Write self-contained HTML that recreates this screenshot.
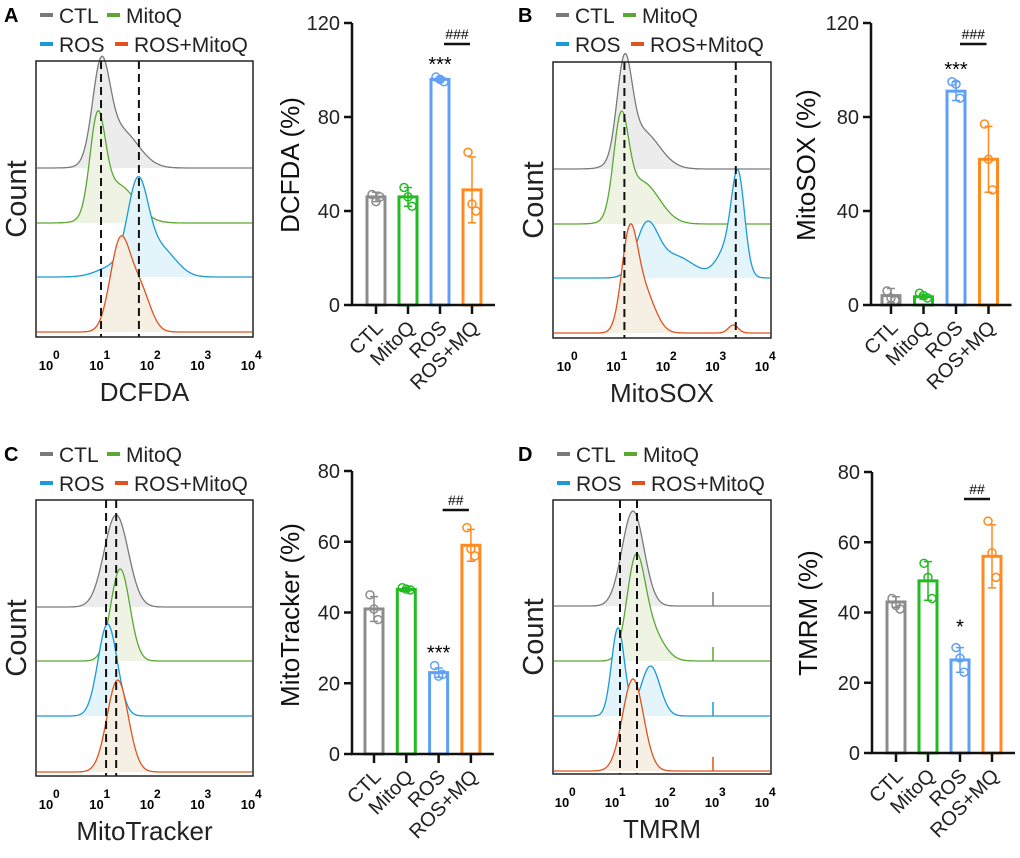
<!DOCTYPE html>
<html><head><meta charset="utf-8"><style>
body{margin:0;background:#fff}
svg{display:block;font-family:"Liberation Sans",Arial,sans-serif}
</style></head><body>
<svg id="fig" width="1020" height="858" viewBox="0 0 1020 858" xmlns="http://www.w3.org/2000/svg"></svg>
<script>
const NS="http://www.w3.org/2000/svg";
const svg=document.getElementById('fig');
function mk(tag,attrs,parent,text){const e=document.createElementNS(NS,tag);for(const k in attrs)e.setAttribute(k,attrs[k]);if(text!==undefined)e.textContent=text;(parent||svg).appendChild(e);return e;}

// ---------- data ----------
const categories=["CTL","MitoQ","ROS","ROS+MQ"];
const legendLabels=["CTL","MitoQ","ROS","ROS+MitoQ"];
const meansA=[46,46,96,49], sdA=[2,4,1,14];
const pointsA=[[47,44,46],[50,46,42],[97,96,95],[65,43,40]];
const meansB=[4,3.5,91,62], sdB=[3,1,4,14];
const pointsB=[[6,3,2],[5,4,3],[95,94,88],[77,62,49]];
const meansC=[41,46.5,23,59], sdC=[3.5,0.5,1.3,4.5];
const pointsC=[[45,41,38],[47,46.6,46.4],[25,22,22.5],[64,58,56]];
const meansD=[43,49,26.5,56], sdD=[1.5,5.5,3.5,9];
const pointsD=[[44,42,41],[54,50,44],[30,27,23],[66,57,50]];
const ticksAB=[0,40,80,120], ticksCD=[0,20,40,60,80];
const decades=[0,1,2,3,4];
// histogram peak components: [log10 centre, height(px), sigma]
const histA=[[[1.07,90,0.17],[1.45,38,0.35]],[[1.0,92,0.15],[1.4,38,0.35]],[[1.8,85,0.2],[2.25,28,0.3],[1.4,12,0.35]],[[1.45,90,0.2],[1.85,40,0.2]]];
const histB=[[[1.2,92,0.15],[1.55,38,0.35]],[[1.13,92,0.15],[1.55,42,0.35]],[[1.65,48,0.22],[2.2,22,0.4],[3.5,88,0.13],[3.3,30,0.22]],[[1.3,92,0.16],[1.6,40,0.22],[3.4,8,0.1]]];
const histC=[[[1.37,92,0.24]],[[1.45,92,0.19]],[[1.2,92,0.19]],[[1.4,92,0.21]]];
const histD=[[[1.4,95,0.22]],[[1.45,92,0.18],[1.75,30,0.25]],[[1.1,88,0.13],[1.75,50,0.19]],[[1.4,92,0.21]]];

const histCol=["#7a7a7a","#5aa832","#1a9ad6","#e0531e"];
const fillCol=["#ececec","#eef3e4","#e3f4fb","#f6efe3"];
const barCol=["#8c8c8c","#22bb22","#5fa0f5","#ff8a1f"];

function panel(o){
  const g=mk('g',{});
  const L=mk('text',{x:o.lx,y:o.ly+7,'font-size':20,'font-weight':'bold'},g,o.letter);
  
  
  const lg=mk('g',{},g);
  
  
  const lpos=[[o.lgx,o.ly],[o.lgx+67,o.ly],[o.lgx,o.ly+29],[o.lgx+75,o.ly+29]];
  legendLabels.forEach((t,i)=>{
    const e=mk('g',{},lg);
    
    
    mk('rect',{x:lpos[i][0],y:lpos[i][1]-2,width:13,height:4,fill:histCol[i]},e);
    mk('text',{x:lpos[i][0]+19,y:lpos[i][1]+8,'font-size':21,fill:'#222'},e,t);
  });
  const hb=o.box;
  const dx=v=>o.d0+v*o.dw;
  const hg=mk('g',{},g);
  
  
  o.hist.forEach((comps,i)=>{
    const base=o.bases[i];
    let pts=[];
    for(let x=hb.x0+1;x<=hb.x1-1;x+=1){
      const lv=(x-o.d0)/o.dw;
      let h=0;comps.forEach(c=>{h+=c[1]*Math.exp(-0.5*Math.pow((lv-c[0])/c[2],2));});
      pts.push([x,base-h]);
    }
    const d='M'+pts.map(p=>p[0]+','+p[1].toFixed(1)).join('L');
    const f=mk('path',{d:d+'L'+(hb.x1-1)+','+base+'L'+(hb.x0+1)+','+base+'Z',fill:fillCol[i],stroke:'none'},hg);
    
    
    const l=mk('path',{d:d,fill:'none',stroke:histCol[i],'stroke-width':1.3},hg);
    
    
    if(o.spikes){const s=mk('line',{x1:dx(3),x2:dx(3),y1:base,y2:base-14,stroke:histCol[i],'stroke-width':1.5},hg);
      }
  });
  o.dash.forEach(v=>{const l=mk('line',{x1:dx(v),x2:dx(v),y1:hb.y0,y2:hb.y1,stroke:'#111','stroke-width':2,'stroke-dasharray':'8,5'},hg);
    });
  const r=mk('rect',{x:hb.x0,y:hb.y0,width:hb.x1-hb.x0,height:hb.y1-hb.y0,fill:'none',stroke:'#222','stroke-width':1.5},g);
  
  decades.forEach(d=>{
    const t=mk('text',{x:dx(d)-1,y:hb.y1+33,'font-size':13,'font-weight':'bold','text-anchor':'middle'},g,'10');
    
    mk('text',{x:dx(d)+6,y:hb.y1+22,'font-size':12,'font-weight':'bold','text-anchor':'start'},g,String(d));
  });
  const xt=mk('text',{x:(hb.x0+hb.x1)/2,y:hb.y1+64,'font-size':26,'text-anchor':'middle',fill:'#222'},g,o.xtitle);
  
  const cy=(hb.y0+hb.y1)/2;
  const ct=mk('text',{x:0,y:0,'font-size':29,'text-anchor':'middle',fill:'#222',transform:`translate(${hb.x0-10},${cy}) rotate(-90)`},g,'Count');
  
  const bg=mk('g',{},g);
  
  const ymax=o.ticks[o.ticks.length-1];
  const Y=v=>o.y0-(v/ymax)*(o.y0-o.ytop);
  const X=i=>o.bx0+i*o.bstep;
  o.ticks.forEach(t=>{
    mk('line',{x1:o.ax-8,x2:o.ax,y1:Y(t),y2:Y(t),stroke:'#111','stroke-width':2.5},bg);
    const tl=mk('text',{x:o.ax-12,y:Y(t)+7,'font-size':20,'text-anchor':'end',fill:'#222'},bg,String(t));
    
  });
  o.means.forEach((m,i)=>{
    const b=mk('rect',{x:X(i)-9,y:Y(m),width:18,height:o.y0-Y(m),fill:'#fff',stroke:barCol[i],'stroke-width':3},bg);
    
    const e=mk('path',{d:`M${X(i)},${Y(m-o.sd[i])}V${Y(m+o.sd[i])}M${X(i)-4},${Y(m+o.sd[i])}H${X(i)+4}M${X(i)-4},${Y(m-o.sd[i])}H${X(i)+4}`,stroke:barCol[i],'stroke-width':1.5,fill:'none'},bg);
    
    o.pts[i].forEach((p,j)=>{
      const c=mk('circle',{cx:X(i)+(j-1)*4,cy:Y(p),r:4,fill:'none',stroke:barCol[i],'stroke-width':1.5},bg);
      
    });
    mk('line',{x1:X(i),x2:X(i),y1:o.y0,y2:o.y0+9,stroke:'#111','stroke-width':2.5},bg);
    const cl=mk('text',{x:0,y:0,'font-size':20,'text-anchor':'end',fill:'#222',transform:`translate(${X(i)+8},${o.y0+24}) rotate(-45)`},bg,categories[i]);
    
  });
  mk('path',{d:`M${o.ax},${o.ytop}V${o.y0}H${X(3)+23}`,stroke:'#111','stroke-width':2.5,fill:'none'},bg);
  const si=o.starIdx;
  const st=mk('text',{x:X(si),y:Y(o.pts[si].reduce((a,b)=>Math.max(a,b)))-14+(o.star==='*'?0:8),'font-size':20,'text-anchor':'middle'},bg,o.star);
  
  const hy=o.hashY;
  mk('line',{x1:X(2)+4,x2:X(3)-2,y1:hy,y2:hy,stroke:'#111','stroke-width':2.5},bg);
  const ht=mk('text',{x:(X(2)+X(3))/2+1,y:hy-5,'font-size':14,'text-anchor':'middle'},bg,o.hash);
  
  const yt=mk('text',{x:0,y:0,'font-size':26,'text-anchor':'middle',fill:'#111',transform:`translate(${o.ytx},${o.yty}) rotate(-90)`},bg,o.ytitle);
  
}

panel({letter:'A',lx:4,ly:15,lgx:40,box:{x0:36,x1:253,y0:61,y1:337},d0:47,dw:50.5,bases:[168,223,277,332],hist:histA,dash:[1.07,1.82],xtitle:'DCFDA',
  ax:352,y0:305,ytop:23,bx0:376,bstep:32,ticks:ticksAB,means:meansA,sd:sdA,pts:pointsA,star:'***',starIdx:2,hash:'###',hashY:44,ytitle:'DCFDA (%)',ytx:299,yty:165});
panel({letter:'B',lx:518,ly:15,lgx:556,box:{x0:553,x1:771,y0:62,y1:338},d0:565,dw:49.5,bases:[169,224,278,333],hist:histB,dash:[1.2,3.45],xtitle:'MitoSOX',
  ax:871,y0:305,ytop:23,bx0:891,bstep:32.5,ticks:ticksAB,means:meansB,sd:sdB,pts:pointsB,star:'***',starIdx:2,hash:'###',hashY:44,ytitle:'MitoSOX (%)',ytx:815,yty:165});
panel({letter:'C',lx:4,ly:454,lgx:40,box:{x0:36,x1:253,y0:500,y1:776},d0:47,dw:50.5,bases:[607,661,716,772],hist:histC,dash:[1.17,1.37],xtitle:'MitoTracker',
  ax:352,y0:754,ytop:471,bx0:374,bstep:32.3,ticks:ticksCD,means:meansC,sd:sdC,pts:pointsC,star:'***',starIdx:2,hash:'##',hashY:510,ytitle:'MitoTracker (%)',ytx:299,yty:615});
panel({letter:'D',lx:518,ly:454,lgx:557,box:{x0:553,x1:771,y0:500,y1:774},d0:563,dw:50,bases:[606,661,716,771],hist:histD,dash:[1.14,1.48],xtitle:'TMRM',spikes:true,
  ax:872,y0:753,ytop:472,bx0:896,bstep:32,ticks:ticksCD,means:meansD,sd:sdD,pts:pointsD,star:'*',starIdx:2,hash:'##',hashY:499,ytitle:'TMRM (%)',ytx:817,yty:613});
</script>
</body></html>
